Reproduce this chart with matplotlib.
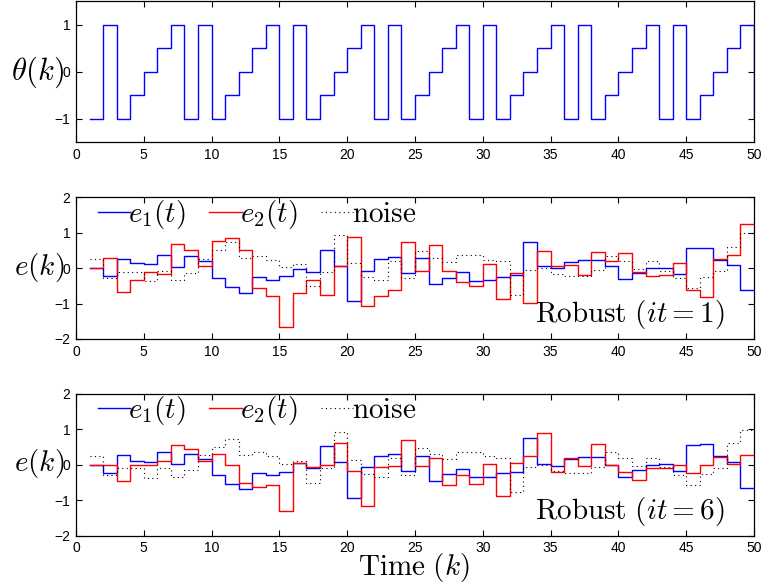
import matplotlib
matplotlib.use("Agg")
import matplotlib.pyplot as plt
import numpy as np

plt.rcParams['mathtext.fontset'] = 'cm'
plt.rcParams['font.family'] = ['Liberation Sans', 'DejaVu Sans']

# time steps
k = np.arange(1, 51)

# reference parameter theta(k)
theta = [-1, 1, -1, -0.5, 0, 0.5, 1, -1, 1, -1,
         -0.5, 0, 0.5, 1, -1, 1, -1, -0.5, 0, 0.5,
         1, -1, 1, -1, -0.5, 0, 0.5, 1, -1, 1,
         -1, -0.5, 0, 0.5, 1, -1, 1, -1, -0.5, 0,
         0.5, 1, -1, 1, -1, -0.5, 0, 0.5, 1, -1]

# noise (same in both error plots)
noise = [0.25, -0.28, -0.1, -0.1, -0.36, -0.08, -0.33, -0.14, 0.27, 0.5,
         0.73, 0.28, 0.35, 0.24, 0.02, 0.12, -0.5, -0.1, 0.94, 0.14,
         -0.25, -0.33, 0.19, -0.28, 0.47, 0.3, 0.16, 0.37, 0.37, 0.24,
         0.19, -0.76, -0.05, -0.01, -0.16, -0.22, -0.22, -0.05, 0.35, 0.19,
         -0.03, 0.2, -0.07, -0.28, -0.57, -0.25, -0.08, 0.61, 0.99, 0.99]

# Robust it=1
e1_it1 = [0, -0.22, 0.27, 0.14, 0.11, 0.37, 0.04, 0.33, 0.20, -0.27,
          -0.52, -0.70, -0.25, -0.33, -0.22, -0.02, -0.10, 0.50, 0.07, -0.92,
          -0.08, 0.25, 0.31, -0.14, 0.28, -0.45, -0.28, -0.12, -0.35, -0.34,
          -0.24, -0.20, 0.74, 0.05, 0.0, 0.18, 0.23, 0.24, 0.05, -0.31,
          -0.14, 0.0, -0.01, -0.17, 0.56, 0.58, 0.24, 0.08, -0.61, -0.61]
e2_it1 = [0, 0.28, -0.68, -0.34, -0.10, -0.16, 0.68, 0.52, 0.06, 0.77,
          0.84, 0.52, -0.55, -0.80, -1.66, -0.69, -0.34, -0.77, 0.07, 0.88,
          -1.06, -0.78, -0.61, 0.74, -0.08, 0.66, -0.09, -0.39, -0.50, 0.12,
          -0.87, -0.14, -0.98, 0.47, 0.07, 0.08, -0.20, 0.46, 0.21, 0.43,
          -0.10, -0.22, -0.19, 0.14, -0.63, -0.82, 0.25, 0.37, 1.25, 1.25]

# Robust it=6
e1_it6 = [0, -0.22, 0.27, 0.12, 0.09, 0.35, 0.01, 0.31, 0.16, -0.29,
          -0.54, -0.69, -0.23, -0.30, -0.19, 0.06, -0.10, 0.52, 0.07, -0.93,
          -0.05, 0.25, 0.32, -0.18, 0.26, -0.47, -0.27, -0.13, -0.34, -0.34,
          -0.22, -0.19, 0.76, 0.03, -0.02, 0.17, 0.22, 0.22, -0.01, -0.33,
          -0.14, -0.01, 0.02, -0.18, 0.56, 0.58, 0.24, 0.07, -0.64, -0.64]
e2_it6 = [0, 0, -0.46, 0.0, 0.0, 0.10, 0.56, 0.45, 0.12, 0.32,
          0.0, -0.51, -0.62, -0.57, -1.30, 0.04, -0.05, -0.01, 0.61, -0.16,
          -1.17, -0.07, -0.02, 0.70, -0.03, 0.18, -0.58, -0.30, -0.55, 0.03,
          -0.89, 0.04, 0.25, 0.90, -0.19, 0.18, -0.02, 0.58, -0.01, -0.20,
          -0.42, -0.10, -0.08, 0.0, -0.22, -0.01, 0.23, 0.03, 0.27, 0.27]

fig = plt.figure(figsize=(7.65, 5.87), dpi=100)
left, width = 0.0993, 0.8863
ax1 = fig.add_axes([left, 0.758, width, 0.240])
ax2 = fig.add_axes([left, 0.4225, width, 0.2414])
ax3 = fig.add_axes([left, 0.0874, width, 0.2414])

def style(ax):
    ax.set_xlim(0, 50)
    ax.set_xticks(np.arange(0, 51, 5))
    ax.tick_params(direction='in', top=True, right=True, labelsize=10,
                   length=4, width=0.8, pad=4)
    for s in ax.spines.values():
        s.set_linewidth(0.9)

# top: theta
ax1.step(k, theta, where='post', color='blue', lw=1.0)
style(ax1)
ax1.set_ylim(-1.5, 1.5)
ax1.set_yticks([-1, 0, 1])
ax1.set_yticklabels(['\u22121', '0', '1'])
fig.text(64 / 765, 1 - 72 / 587, r'$\theta(k)$', fontsize=22, ha='right', va='center')

for ax, e1, e2, it in [(ax2, e1_it1, e2_it1, 1), (ax3, e1_it6, e2_it6, 6)]:
    ax.step(k, e1, where='post', color='blue', lw=1.0, label=r'$e_1(t)$')
    ax.step(k, e2, where='post', color='red', lw=1.0, label=r'$e_2(t)$')
    ax.step(k, noise, where='post', color='black', lw=0.8,
            linestyle=(0, (1, 3)), label=r'$\mathrm{noise}$')
    style(ax)
    ax.set_ylim(-2, 2)
    ax.set_yticks([-2, -1, 0, 1, 2])
    ax.set_yticklabels(['\u22122', '\u22121', '0', '1', '2'])
    ax.legend(loc='center left', bbox_to_anchor=(0.032, 0.88), ncol=3, frameon=False,
              fontsize=21, handlelength=1.1, handletextpad=-0.05, columnspacing=0.8,
              borderpad=0, borderaxespad=0)
    ax.text(0.957, 0.17, r'$\mathrm{Robust}\ (it=%d)$' % it, transform=ax.transAxes,
            fontsize=21, ha='right', va='center')

fig.text(64 / 765, 1 - 268 / 587, r'$e(k)$', fontsize=21, ha='right', va='center')
fig.text(64 / 765, 1 - 464 / 587, r'$e(k)$', fontsize=21, ha='right', va='center')
fig.text(414 / 765, 1 - 567 / 587, r'$\mathrm{Time}\ (k)$', fontsize=21,
         ha='center', va='center')

fig.savefig('out.png', dpi=100)
